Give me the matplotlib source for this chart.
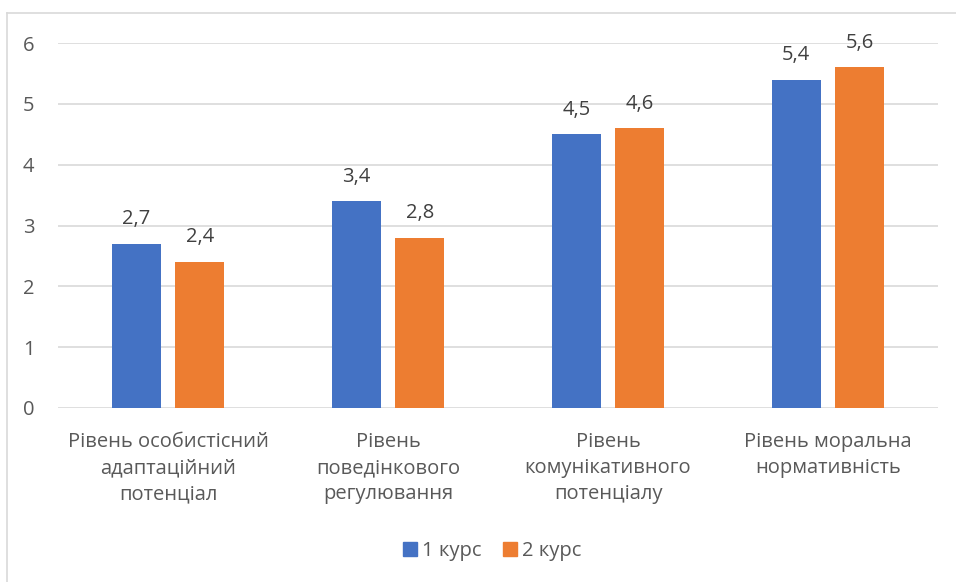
import numpy as np
import matplotlib.pyplot as plt
from matplotlib.lines import Line2D

categories = ["Рівень особистісний\nадаптаційний\nпотенціал",
              "Рівень\nповедінкового\nрегулювання",
              "Рівень\nкомунікативного\nпотенціалу",
              "Рівень моральна\nнормативність"]
series_names = ["1 курс", "2 курс"]
course1 = [2.7, 3.4, 4.5, 5.4]
course2 = [2.4, 2.8, 4.6, 5.6]
colors = ["#4472C4", "#ED7D31"]
text_col = "#595959"
fs = 14.5

plt.rcParams['font.family'] = ['Open Sans', 'DejaVu Sans']

fig = plt.figure(figsize=(9.56, 5.82), dpi=100)
ax = fig.add_axes([0.0607, 0.299, 0.9205, 0.627])

x = np.arange(len(categories))
w = 0.223
off = 0.144
for vals, dx, col in [(course1, -off, colors[0]), (course2, off, colors[1])]:
    bars = ax.bar(x + dx, vals, width=w, color=col, zorder=3)
    for b, v in zip(bars, vals):
        ax.annotate(f"{v:.1f}".replace(".", ","), (b.get_x() + b.get_width() / 2, v),
                    xytext=(0, 10.5), textcoords="offset points", ha="center", va="bottom",
                    fontsize=fs, color="#404040")

ax.set_xlim(-0.5, 3.5)
ax.set_ylim(0, 6)
ax.set_yticks(range(7))
ax.grid(axis="y", color="#D9D9D9", linewidth=1.2, zorder=0)
for s in ax.spines.values():
    s.set_visible(False)
ax.tick_params(length=0, colors=text_col, labelsize=fs)
ax.tick_params(axis="y", pad=17)
ax.tick_params(axis="x", pad=17)
ax.set_xticks(x)
ax.set_xticklabels(categories, linespacing=1.42)

handles = [Line2D([], [], marker="s", linestyle="", markersize=10, color=c) for c in colors]
fig.legend(handles, series_names, loc="center", bbox_to_anchor=(0.514, 0.053), ncol=2,
           frameon=False, fontsize=fs, labelcolor=text_col, handlelength=0.8,
           handletextpad=0.2, columnspacing=1.0)

# chart border (top and left edges visible)
fig.add_artist(Line2D([7 / 956, 7 / 956], [0, 1 - 13 / 582], color="#D9D9D9", lw=1.2))
fig.add_artist(Line2D([7 / 956, 1], [1 - 13 / 582, 1 - 13 / 582], color="#D9D9D9", lw=1.2))

fig.savefig("out.png", dpi=100)
